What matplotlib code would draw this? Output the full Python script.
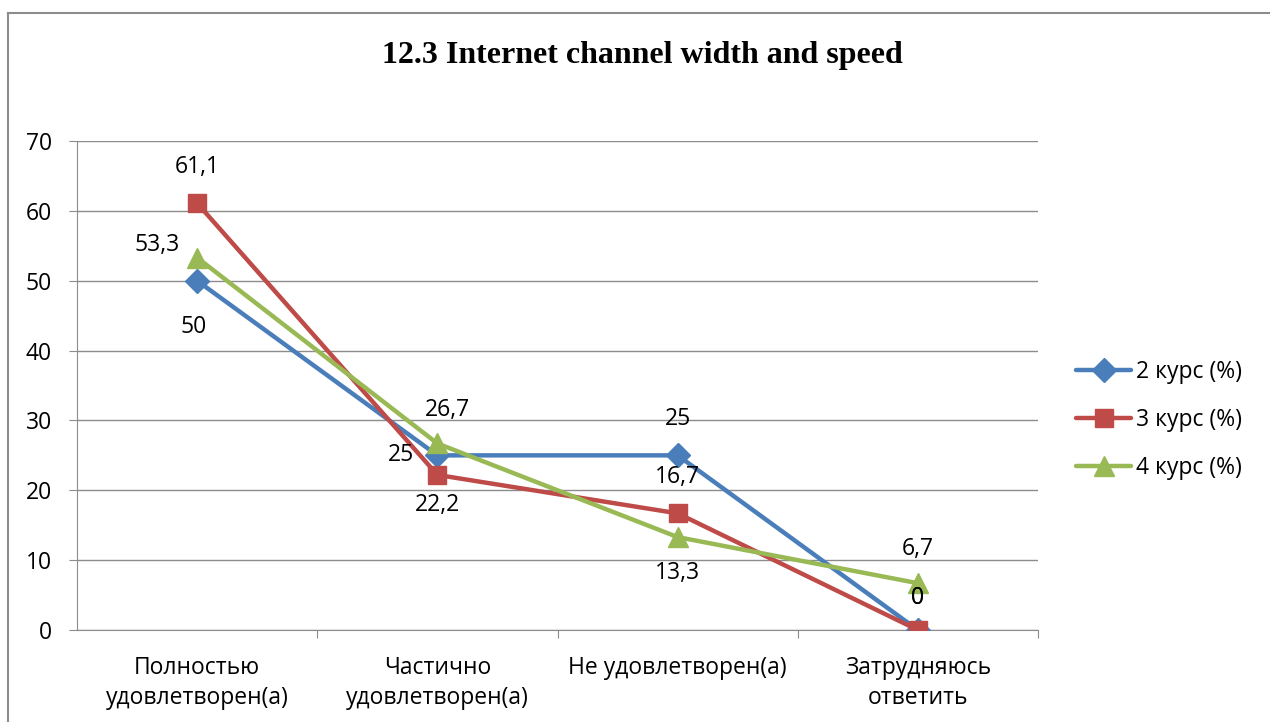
import matplotlib
matplotlib.use("Agg")
import matplotlib.pyplot as plt
from matplotlib.lines import Line2D

categories = ["Полностью\nудовлетворен(а)", "Частично\nудовлетворен(а)", "Не удовлетворен(а)", "Затрудняюсь\nответить"]
series_names = ["2 курс (%)", "3 курс (%)", "4 курс (%)"]
s2 = [50, 25, 25, 0]
s3 = [61.1, 22.2, 16.7, 0]
s4 = [53.3, 26.7, 13.3, 6.7]
yticks = [0, 10, 20, 30, 40, 50, 60, 70]

colors = ["#4A7EBB", "#BE4B48", "#98B954"]
markers = ["D", "s", "^"]
msizes = [12, 13, 14]
# label offsets in pixels (dx, dy) for each point
offsets = [
    [(-4, -46), (-36, 0), (0, 36), (0, 32)],
    [(0, 36), (0, -30), (0, 36), (0, 32)],
    [(-40, 13), (10, 33), (0, -36), (0, 34)],
]

FONT = "Open Sans"
FS = 16.5
fig = plt.figure(figsize=(12.7, 7.22), dpi=100)
ax = fig.add_axes([77/1270, 92/722, (1038-77)/1270, (630-141)/722])

x = list(range(len(categories)))
for vals, name, c, m, ms, offs in zip([s2, s3, s4], series_names, colors, markers, msizes, offsets):
    ax.plot(x, vals, color=c, lw=3.2, marker=m, ms=ms, label=name, solid_capstyle="round", zorder=3)
    for xi, v, (dx, dy) in zip(x, vals, offs):
        txt = ("%g" % v).replace(".", ",")
        ax.annotate(txt, (xi, v), xytext=(dx, dy), textcoords="offset pixels",
                    ha="center", va="center", fontsize=FS, family=FONT, zorder=4)

ax.set_xlim(-0.5, 3.5)
ax.set_ylim(0, 70)
ax.set_yticks(yticks)
ax.set_yticklabels([str(t) for t in yticks], family=FONT, fontsize=FS)
ax.yaxis.grid(True, color="#8C8C8C", lw=1)
ax.set_axisbelow(True)
for sp in ["top", "right"]:
    ax.spines[sp].set_visible(False)
for sp in ["left", "bottom"]:
    ax.spines[sp].set_color("#8C8C8C")
ax.tick_params(axis="y", length=6, color="#8C8C8C", pad=12)
ax.set_xticks([0.5, 1.5, 2.5, 3.5])
ax.set_xticklabels([])
ax.tick_params(axis="x", length=6, color="#8C8C8C")
ax.set_xticks(x, minor=True)
ax.set_xticklabels(categories, minor=True, family=FONT, fontsize=FS, linespacing=1.3, va="top")
ax.tick_params(axis="x", which="minor", length=0, pad=19)

fig.text(642/1270, 1 - 55/722, "12.3 Internet channel width and speed", ha="center", va="center",
         family="Liberation Serif", fontweight="bold", fontsize=23)

leg = ax.legend(loc="center left", bbox_to_anchor=(1076/1270, 1 - 420/722), bbox_transform=fig.transFigure,
                frameon=False, prop={"family": FONT, "size": FS}, handlelength=2.4, labelspacing=1.05,
                handletextpad=0.2, borderpad=0, borderaxespad=0)

fig.add_artist(Line2D([8/1270, 1], [1 - 13/722, 1 - 13/722], color="#8C8C8C", lw=1.5, transform=fig.transFigure))
fig.add_artist(Line2D([8/1270, 8/1270], [0, 1 - 13/722], color="#8C8C8C", lw=1.5, transform=fig.transFigure))

fig.savefig("out.png", dpi=100)
